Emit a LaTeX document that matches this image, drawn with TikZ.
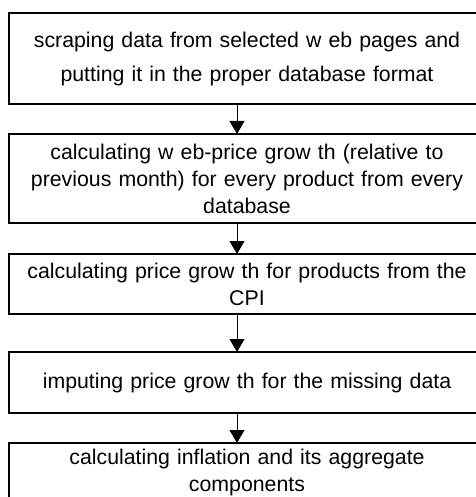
\documentclass[tikz,border=0pt]{standalone}
\usepackage{fontspec}
\setmainfont{Liberation Sans}
\usepackage{tikz}
\usetikzlibrary{shapes.geometric, arrows.meta, positioning}

\begin{document}
\begin{tikzpicture}[node distance=30pt, font=\fontsize{21.3}{27}\selectfont]
	\tikzstyle{stepbox} = [rectangle, minimum width=476pt, text width=462pt, align=center, draw=black, line width=2.2pt, inner sep=4pt, outer sep=0pt]
	
	\tikzstyle{arrow} = [-{Triangle[width=15pt,length=13pt]}, line width=0.8pt]
	
	% Size of the whole figure
	\useasboundingbox (0,0) rectangle (475pt,-497pt);
	
	% Steps of the procedure
	\node (scrape) [stepbox, minimum height=91pt, font=\fontsize{21.3}{34}\selectfont] at (247pt,-58.5pt) {scraping data from selected w eb pages and\\ putting it in the proper database format};
	\node (webgrowth) [stepbox, minimum height=89pt, below=30pt of scrape] {calculating w eb-price grow th (relative to\\ previous month) for every product from every\\ database};
	\node (cpigrowth) [stepbox, minimum height=60pt, below=31pt of webgrowth] {calculating price grow th for products from the\\ CPI};
	\node (impute) [stepbox, minimum height=61pt, below=38pt of cpigrowth] {imputing price grow th for the missing data};
	\node (inflation) [stepbox, minimum height=58pt, below=30pt of impute] {calculating inflation and its aggregate\\ components};
	
	% Arrows
	\draw [arrow] ([xshift=-10pt]scrape.south) -- ([xshift=-10pt]webgrowth.north);
	\draw [arrow] ([xshift=-10pt]webgrowth.south) -- ([xshift=-10pt]cpigrowth.north);
	\draw [arrow] ([xshift=-10pt]cpigrowth.south) -- ([xshift=-10pt]impute.north);
	\draw [arrow] ([xshift=-10pt]impute.south) -- ([xshift=-10pt]inflation.north);
\end{tikzpicture}
\end{document}
